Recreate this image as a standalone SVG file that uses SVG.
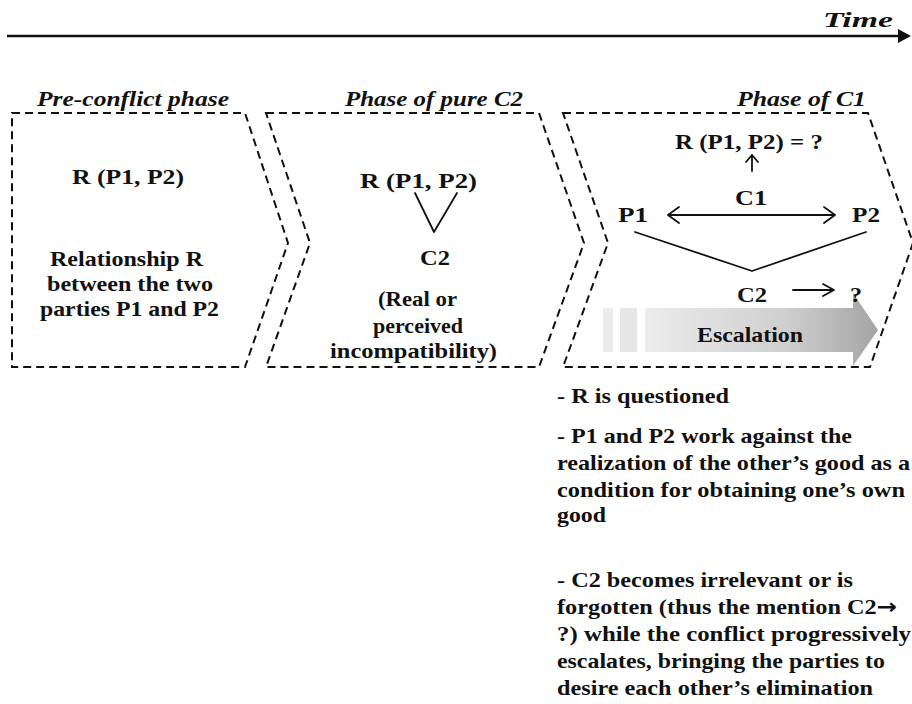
<svg xmlns="http://www.w3.org/2000/svg" width="912" height="704" viewBox="0 0 912 704">
<style>
.t{font-family:"Liberation Serif","Times New Roman",serif;font-weight:bold;font-size:21px;fill:#111}
.ph{font-family:"Liberation Serif","Times New Roman",serif;font-style:italic;font-weight:bold;font-size:21px;fill:#111}
.chev{fill:none;stroke:#111;stroke-width:2;stroke-dasharray:8 5}
.ln{fill:none;stroke:#111;stroke-width:1.8;stroke-linecap:round;stroke-linejoin:round}
.ar{font-family:"DejaVu Sans",sans-serif}
</style>
<defs>
<linearGradient id="esc" x1="0" y1="0" x2="1" y2="0">
<stop offset="0" stop-color="#ececec"/>
<stop offset="0.6" stop-color="#cfcfcf"/>
<stop offset="1" stop-color="#a4a4a4"/>
</linearGradient>
</defs>
<rect width="912" height="704" fill="#fff"/>
<g id="time-axis">
<line x1="7" y1="36" x2="900" y2="36" stroke="#111" stroke-width="2.5"/>
<path d="M898,29 L911,36 L898,43 Z" fill="#111"/>
<text x="823" y="27" class="ph" textLength="70" lengthAdjust="spacingAndGlyphs">Time</text>
</g>
<g id="phase-pre">
<text x="37" y="106" class="ph" textLength="192" lengthAdjust="spacingAndGlyphs">Pre-conflict phase</text>
<path class="chev" d="M12,113 L245,113 L288,243 L245,367 L12,367 Z"/>
<text x="72" y="184" class="t" textLength="112" lengthAdjust="spacingAndGlyphs">R (P1, P2)</text>
<text x="50" y="266" class="t" textLength="153" lengthAdjust="spacingAndGlyphs">Relationship R</text>
<text x="47" y="291" class="t" textLength="166" lengthAdjust="spacingAndGlyphs">between the two</text>
<text x="40" y="316" class="t" textLength="179" lengthAdjust="spacingAndGlyphs">parties P1 and P2</text>
</g>
<g id="phase-c2">
<text x="345" y="106" class="ph" textLength="178" lengthAdjust="spacingAndGlyphs">Phase of pure C2</text>
<path class="chev" d="M266,113 L539,113 L584,243 L539,367 L266,367 L310,243 Z"/>
<text x="360" y="188" class="t" textLength="117" lengthAdjust="spacingAndGlyphs">R (P1, P2)</text>
<text x="420" y="265" class="t" textLength="30" lengthAdjust="spacingAndGlyphs">C2</text>
<text x="378" y="306" class="t" textLength="79" lengthAdjust="spacingAndGlyphs">(Real or</text>
<text x="373" y="333" class="t" textLength="90" lengthAdjust="spacingAndGlyphs">perceived</text>
<text x="330" y="358" class="t" textLength="167" lengthAdjust="spacingAndGlyphs">incompatibility)</text>
</g>
<g id="phase-c1">
<text x="737" y="106" class="ph" textLength="129" lengthAdjust="spacingAndGlyphs">Phase of C1</text>
<path class="chev" d="M563,113 L868,113 L913,243 L870,367 L563,367 L608,243 Z"/>
<text x="675" y="149" class="t" textLength="148" lengthAdjust="spacingAndGlyphs">R (P1, P2) = ?</text>
<text x="735" y="205" class="t" textLength="32" lengthAdjust="spacingAndGlyphs">C1</text>
<text x="618" y="222" class="t" textLength="30" lengthAdjust="spacingAndGlyphs">P1</text>
<text x="852" y="222" class="t" textLength="28" lengthAdjust="spacingAndGlyphs">P2</text>
<g id="escalation">
<rect x="603" y="308" width="10" height="44" fill="#ececec"/>
<rect x="620" y="308" width="17" height="44" fill="#e6e6e6"/>
<path d="M645,308 L853,308 L853,293 L878,330 L853,366 L853,352 L645,352 Z" fill="url(#esc)"/>
<text x="697" y="342" class="t" textLength="106" lengthAdjust="spacingAndGlyphs">Escalation</text>
</g>
<text x="737" y="302" class="t" textLength="30" lengthAdjust="spacingAndGlyphs">C2</text>
<text x="850" y="302" class="t" textLength="12" lengthAdjust="spacingAndGlyphs">?</text>
</g>
<g id="connectors">
<path class="ln" d="M415,193 L434,232 L457,193"/>
<path class="ln" d="M752,171 L752,155 M746,162 L752,155 L758,162"/>
<path class="ln" stroke-width="2.6" d="M668,215 L835,215 M679,207 L668,215 L679,223 M824,207 L835,215 L824,223"/>
<path class="ln" d="M635,232 L752,271 L866,232"/>
<path class="ln" d="M793,290 L833,290 M823,284 L834,290 L823,296"/>
</g>
<g id="notes">
<text x="557" y="403" class="t" textLength="172" lengthAdjust="spacingAndGlyphs">- R is questioned</text>
<text x="557" y="443" class="t" textLength="295" lengthAdjust="spacingAndGlyphs">- P1 and P2 work against the</text>
<text x="557" y="470" class="t" textLength="353" lengthAdjust="spacingAndGlyphs">realization of the other’s good as a</text>
<text x="557" y="497" class="t" textLength="348" lengthAdjust="spacingAndGlyphs">condition for obtaining one’s own</text>
<text x="557" y="522" class="t" textLength="49" lengthAdjust="spacingAndGlyphs">good</text>
<text x="557" y="587" class="t" textLength="296" lengthAdjust="spacingAndGlyphs">- C2 becomes irrelevant or is</text>
<text x="557" y="614" class="t" textLength="340" lengthAdjust="spacingAndGlyphs">forgotten (thus the mention C2<tspan class="ar">→</tspan></text>
<text x="557" y="641" class="t" textLength="354" lengthAdjust="spacingAndGlyphs">?) while the conflict progressively</text>
<text x="557" y="668" class="t" textLength="328" lengthAdjust="spacingAndGlyphs">escalates, bringing the parties to</text>
<text x="557" y="695" class="t" textLength="316" lengthAdjust="spacingAndGlyphs">desire each other’s elimination</text>
</g>
</svg>
